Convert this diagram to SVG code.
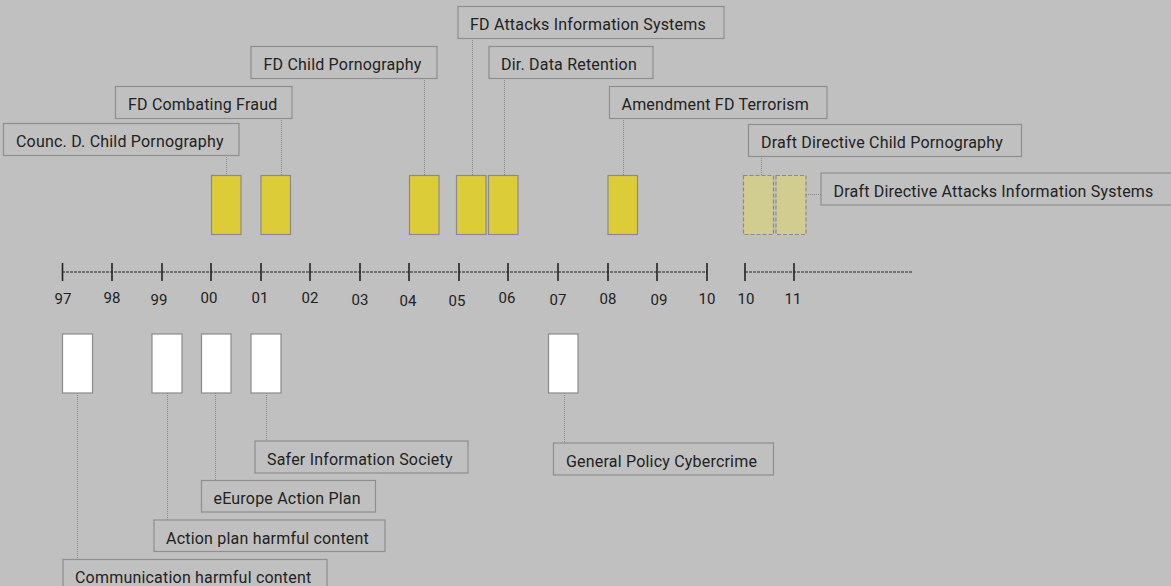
<svg xmlns="http://www.w3.org/2000/svg" width="1171" height="586" viewBox="0 0 1171 586">
<style>
.bg{fill:#c0c0c0}
.lbl{fill:#c0c0c0;stroke:#8e8e8e;stroke-width:1.2}
.t{font-family:Roboto,"Liberation Sans",sans-serif;font-size:16px;letter-spacing:0.2px;fill:#222}
.yr{font-family:Roboto,"Liberation Sans",sans-serif;font-size:15px;fill:#222;text-anchor:middle}
.ev{fill:#dccd38;stroke:#8a8a8a;stroke-width:1.2}
.dr{fill:#d1cc8f;stroke:#8a8a8a;stroke-width:1.2;stroke-dasharray:4,2}
.wb{fill:#ffffff;stroke:#8a8a8a;stroke-width:1.2}
.c{stroke:#8a8a8a;stroke-width:1;stroke-dasharray:1,1;fill:none}
.axis{stroke:#222;stroke-width:1;stroke-dasharray:3,1;fill:none}
.tick{stroke:#222;stroke-width:1.6}
</style>
<rect class="bg" x="0" y="0" width="1171" height="586"/>

<g id="connectors">
<line class="c" x1="226.5" y1="155" x2="226.5" y2="175"/>
<line class="c" x1="281.5" y1="118" x2="281.5" y2="175"/>
<line class="c" x1="424.5" y1="78" x2="424.5" y2="175"/>
<line class="c" x1="472.5" y1="38" x2="472.5" y2="175"/>
<line class="c" x1="504.5" y1="78" x2="504.5" y2="175"/>
<line class="c" x1="623.5" y1="118" x2="623.5" y2="175"/>
<line class="c" x1="761.5" y1="156" x2="761.5" y2="175"/>
<line class="c" x1="806" y1="194.5" x2="821" y2="194.5"/>
<line class="c" x1="77.5" y1="393" x2="77.5" y2="559"/>
<line class="c" x1="167.5" y1="393" x2="167.5" y2="520"/>
<line class="c" x1="215.5" y1="393" x2="215.5" y2="480"/>
<line class="c" x1="266.5" y1="393" x2="266.5" y2="441"/>
<line class="c" x1="564.5" y1="393" x2="564.5" y2="443"/>
</g>

<g id="timeline">
<line class="axis" x1="62" y1="272" x2="707" y2="272"/>
<line class="axis" x1="745" y1="272" x2="913" y2="272"/>
<g class="tick">
<line x1="62.5" y1="263" x2="62.5" y2="281"/>
<line x1="112" y1="263" x2="112" y2="281"/>
<line x1="162" y1="263" x2="162" y2="281"/>
<line x1="211" y1="263" x2="211" y2="281"/>
<line x1="261" y1="263" x2="261" y2="281"/>
<line x1="310" y1="263" x2="310" y2="281"/>
<line x1="360" y1="263" x2="360" y2="281"/>
<line x1="409" y1="263" x2="409" y2="281"/>
<line x1="459" y1="263" x2="459" y2="281"/>
<line x1="508" y1="263" x2="508" y2="281"/>
<line x1="558" y1="263" x2="558" y2="281"/>
<line x1="608" y1="263" x2="608" y2="281"/>
<line x1="657" y1="263" x2="657" y2="281"/>
<line x1="707" y1="263" x2="707" y2="281"/>
<line x1="745" y1="263" x2="745" y2="281"/>
<line x1="794" y1="263" x2="794" y2="281"/>
</g>
<text class="yr" x="63" y="304">97</text>
<text class="yr" x="112" y="303">98</text>
<text class="yr" x="159" y="305">99</text>
<text class="yr" x="209" y="303">00</text>
<text class="yr" x="260" y="303">01</text>
<text class="yr" x="310" y="303">02</text>
<text class="yr" x="360" y="305">03</text>
<text class="yr" x="408" y="306">04</text>
<text class="yr" x="457" y="306">05</text>
<text class="yr" x="507" y="303">06</text>
<text class="yr" x="558" y="305">07</text>
<text class="yr" x="608" y="304">08</text>
<text class="yr" x="659" y="305">09</text>
<text class="yr" x="707" y="304">10</text>
<text class="yr" x="746" y="304">10</text>
<text class="yr" x="793" y="304">11</text>
</g>

<g id="n-counc-child">
<rect class="ev" x="211.5" y="175.5" width="29.5" height="59"/>
<rect class="lbl" x="3.5" y="123.5" width="235.5" height="32"/>
<text class="t" x="16" y="147">Counc. D. Child Pornography</text>
</g>
<g id="n-fd-fraud">
<rect class="ev" x="261" y="175.5" width="29.5" height="59"/>
<rect class="lbl" x="115.5" y="86.5" width="176.5" height="32"/>
<text class="t" x="128" y="110">FD Combating Fraud</text>
</g>
<g id="n-fd-child">
<rect class="ev" x="409.5" y="175.5" width="29.5" height="59"/>
<rect class="lbl" x="251" y="46.5" width="186" height="32"/>
<text class="t" x="263.5" y="70">FD Child Pornography</text>
</g>
<g id="n-fd-attacks">
<rect class="ev" x="456.5" y="175.5" width="29.5" height="59"/>
<rect class="lbl" x="458" y="6.5" width="266" height="32"/>
<text class="t" x="470" y="30">FD Attacks Information Systems</text>
</g>
<g id="n-data-retention">
<rect class="ev" x="488.5" y="175.5" width="29.5" height="59"/>
<rect class="lbl" x="489" y="46.5" width="164" height="32"/>
<text class="t" x="501" y="70">Dir. Data Retention</text>
</g>
<g id="n-terrorism">
<rect class="ev" x="608" y="175.5" width="29.5" height="59"/>
<rect class="lbl" x="609.5" y="86.5" width="217.5" height="32"/>
<text class="t" x="621.5" y="110">Amendment FD Terrorism</text>
</g>
<g id="n-draft-child">
<rect class="dr" x="743.5" y="175.5" width="30" height="59"/>
<rect class="lbl" x="748.5" y="124.5" width="273" height="32"/>
<text class="t" x="761" y="148">Draft Directive Child Pornography</text>
</g>
<g id="n-draft-attacks">
<rect class="dr" x="776" y="175.5" width="30" height="59"/>
<rect class="lbl" x="821" y="173" width="360" height="32"/>
<text class="t" x="833.5" y="197">Draft Directive Attacks Information Systems</text>
</g>

<g id="n-communication">
<rect class="wb" x="62.5" y="334" width="30" height="59"/>
<rect class="lbl" x="63" y="559.5" width="264" height="40"/>
<text class="t" x="75" y="583">Communication harmful content</text>
</g>
<g id="n-action-plan">
<rect class="wb" x="152" y="334" width="30" height="59"/>
<rect class="lbl" x="154" y="520" width="231" height="31.5"/>
<text class="t" x="166" y="543.5">Action plan harmful content</text>
</g>
<g id="n-eeurope">
<rect class="wb" x="201.5" y="334" width="29.5" height="59"/>
<rect class="lbl" x="201.5" y="480.5" width="174" height="31.5"/>
<text class="t" x="213.5" y="504">eEurope Action Plan</text>
</g>
<g id="n-safer">
<rect class="wb" x="251" y="334" width="30" height="59"/>
<rect class="lbl" x="255" y="441" width="213" height="32"/>
<text class="t" x="267" y="465">Safer Information Society</text>
</g>
<g id="n-general-policy">
<rect class="wb" x="548.5" y="334" width="29.5" height="59"/>
<rect class="lbl" x="553.5" y="443" width="220" height="32"/>
<text class="t" x="566" y="467">General Policy Cybercrime</text>
</g>
</svg>
